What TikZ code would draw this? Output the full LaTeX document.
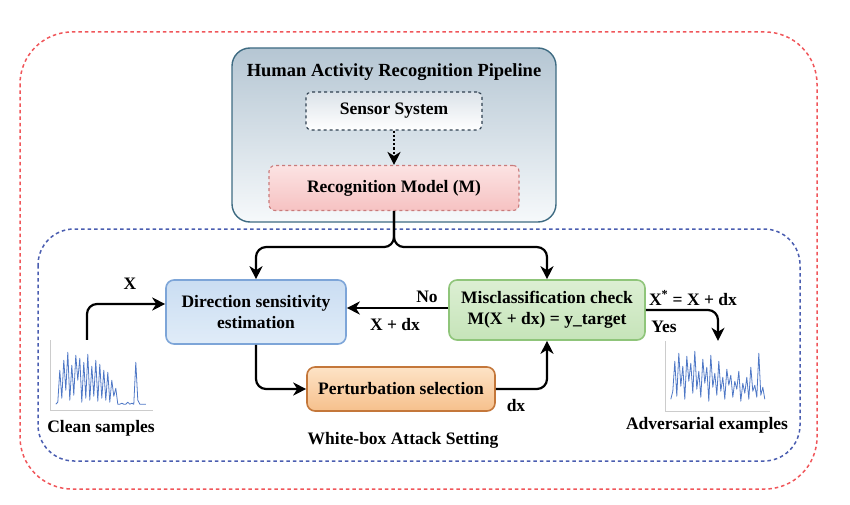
\documentclass[tikz,border=0pt]{standalone}
\usepackage{fontspec}
\setmainfont{Liberation Serif}
\usepackage{xcolor}
\usetikzlibrary{arrows.meta,positioning}
\definecolor{redframe}{HTML}{F0565A}
\definecolor{blueframe}{HTML}{4A5DB0}
\definecolor{pipeline}{HTML}{3E6B82}
\definecolor{pipetop}{HTML}{B5C6D3}
\definecolor{pipebot}{HTML}{F6F9FB}
\definecolor{sensorline}{HTML}{2F4050}
\definecolor{sensortop}{HTML}{DCE3E9}
\definecolor{recogline}{HTML}{C97B7B}
\definecolor{recogtop}{HTML}{FCE3E3}
\definecolor{recogbot}{HTML}{F6C2C2}
\definecolor{dirline}{HTML}{7DA5D8}
\definecolor{dirtop}{HTML}{CADDF2}
\definecolor{dirbot}{HTML}{E0ECF8}
\definecolor{misline}{HTML}{8FC57A}
\definecolor{mistop}{HTML}{DCEFD3}
\definecolor{misbot}{HTML}{C6E4B9}
\definecolor{pertline}{HTML}{C4773A}
\definecolor{perttop}{HTML}{FDE3C6}
\definecolor{pertbot}{HTML}{F6C08C}
\definecolor{sigblue}{HTML}{4F78C6}

\begin{document}
\begin{tikzpicture}[x=1pt, y=-1pt, font=\fontsize{17.5}{21}\selectfont\bfseries,
  box/.style={draw, rounded corners=8pt, line width=1.6pt, align=center, inner sep=0pt},
  arr/.style={line width=2.2pt, rounded corners=10pt, -{Stealth[length=13pt,width=13pt,inset=4pt]}},
  sig/.style={draw=sigblue, line width=0.8pt, line join=round}]
\useasboundingbox (0,0) rectangle (850,505);
% outer frames
\draw[redframe, dash pattern=on 3.5pt off 3pt, line width=1.5pt, rounded corners=52pt] (20,32) rectangle (817,489);
\draw[blueframe, dash pattern=on 3.5pt off 3pt, line width=1.5pt, rounded corners=36pt] (38,229) rectangle (800,461);
% pipeline
\node[box, draw=pipeline, line width=1.4pt, rounded corners=18pt, top color=pipetop, bottom color=pipebot,
  minimum width=324pt, minimum height=174pt] (pipe) at (394,135) {};
\node[font=\fontsize{18.5}{22}\selectfont\bfseries] (title) at (394,72) {Human Activity Recognition Pipeline};
\node[box, draw=sensorline, dashed, line width=1.1pt, rounded corners=5pt, top color=sensortop, bottom color=white,
  minimum width=176pt, minimum height=38pt] (sensor) at (394,111) {Sensor System};
\node[box, draw=recogline, dashed, line width=1.1pt, rounded corners=6pt, top color=recogtop, bottom color=recogbot,
  minimum width=250pt, minimum height=45pt] (recog) at (394,188) {Recognition Model (M)};
% attack blocks
\node[box, draw=dirline, top color=dirtop, bottom color=dirbot,
  minimum width=180pt, minimum height=64pt] (dir) at (256,312) {Direction sensitivity\\estimation};
\node[box, draw=misline, top color=mistop, bottom color=misbot,
  minimum width=196pt, minimum height=60pt] (mis) at (547,310) {Misclassification check\\M(X + dx) = y\_target};
\node[box, draw=pertline, top color=perttop, bottom color=pertbot,
  minimum width=188pt, minimum height=44pt] (pert) at (401,389) {Perturbation selection};
\node[minimum width=102pt, minimum height=70pt, inner sep=0pt] (clean) at (102,375) {};
\node[minimum width=104pt, minimum height=70pt, inner sep=0pt] (adv) at (718,376) {};
\node (cleantxt) at (101,428) {Clean samples};
\node (advtxt) at (707,425) {Adversarial examples};
\node (wbtxt) at (403,440) {White-box Attack Setting};
% signals
\begin{scope}[shift={(clean.south west)}]
\draw[black!20, line width=1pt] (0,-70) -- (0,0) -- (102,0);
\draw[sig] (5,-6) \foreach \h [count=\i] in {8,40,12,50,20,58,10,45,15,55,30,52,8,48,12,56,10,44,14,50,9,46,12,40,10,38,8,30,14,22,6,6,7,6,6,8,6,7,6,48,10,6,6,6,6}{ -- (5+2*\i,-\h) };
\end{scope}
\begin{scope}[shift={(adv.south west)}]
\draw[black!20, line width=1pt] (0,-70) -- (0,0) -- (104,0);
\draw[sig] (5,-12) \foreach \h [count=\i] in {20,50,15,58,25,45,12,55,30,48,18,60,22,40,14,52,28,44,10,56,24,38,16,50,20,34,12,42,26,36,14,30,22,40,10,28,18,34,12,44,20,26,14,58,16,24,12}{ -- (5+2*\i,-\h) };
\end{scope}
% connectors
\draw[arr, dotted, line width=2.4pt] (sensor) -- (recog);
\draw[arr] (recog.south) -- ++(0,36) -| (dir.north);
\draw[arr] (recog.south) -- ++(0,36) -| (mis.north);
\draw[arr] ([xshift=-15pt]clean.north) |- ([yshift=8pt]dir.west);
\draw[arr] ([yshift=2pt]mis.west) -- ([yshift=2pt]mis.west -| dir.east);
\draw[arr] (dir.south) |- (pert.west);
\draw[arr] (pert.east) -| (mis.south);
\draw[arr] (mis.east) -| (adv.north);
% labels
\node (xlab) at (130,284) {X};
\node (nolab) at (427,297) {No};
\node (xdxlab) at (395,325) {X + dx};
\node (dxlab) at (516,406) {dx};
\node (xstar) at (693,298) {X\textsuperscript{*} = X + dx};
\node (yeslab) at (664,327) {Yes};
\end{tikzpicture}
\end{document}
